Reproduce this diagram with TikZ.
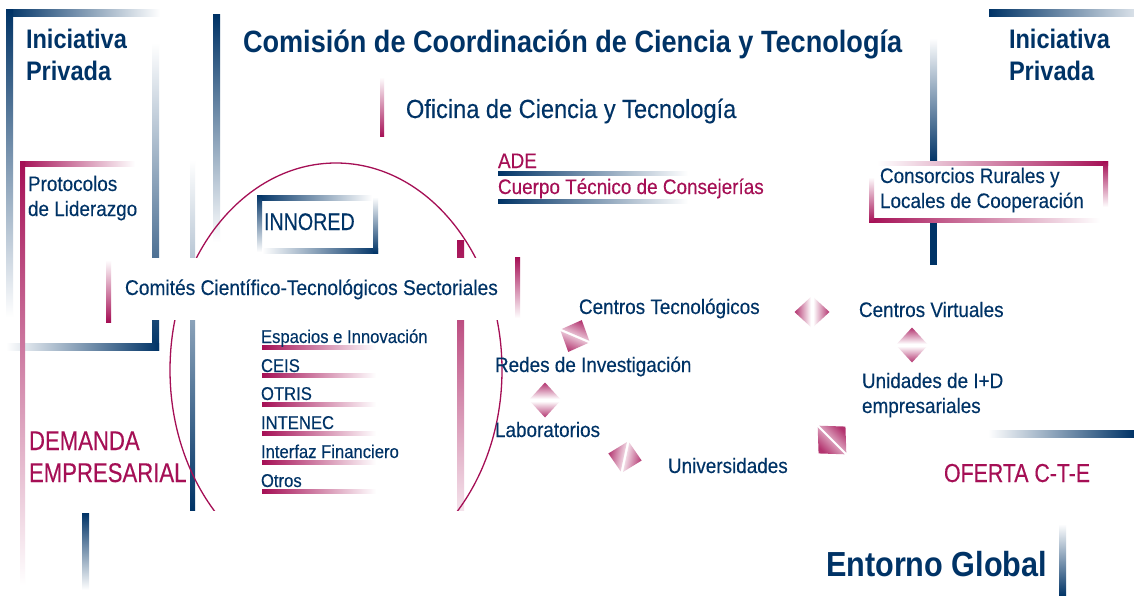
\documentclass[tikz,border=0pt]{standalone}
\usepackage{fontspec}
\setmainfont[FakeStretch=0.9,FakeBold=0.3]{Liberation Sans}
\newfontfamily\boldfam[FakeStretch=0.88]{Liberation Sans}
\newfontfamily\capfam[FakeStretch=0.82,FakeBold=0.3]{Liberation Sans}
\usetikzlibrary{calc}
\definecolor{navy}{RGB}{0,51,102}
\definecolor{mag}{RGB}{165,15,85}
\newcommand\dblarr[4]{%
  \pgfmathsetmacro\dblsa{-(#2)-90}%
  \pgfmathsetmacro\dblsb{-(#2)+90}%
  \shade[top color=mag!85, bottom color=white, shading angle=\dblsa]
    ($(#1)+(#2:#3)$) -- ($(#1)+(#2:1.2)+(#2+90:#4)$) -- ($(#1)+(#2:1.2)+(#2-90:#4)$) -- cycle;
  \shade[top color=mag!85, bottom color=white, shading angle=\dblsb]
    ($(#1)+(#2+180:#3)$) -- ($(#1)+(#2+180:1.2)+(#2+90:#4)$) -- ($(#1)+(#2+180:1.2)+(#2-90:#4)$) -- cycle;
}
\tikzset{
  lbl/.style={anchor=base west, inner sep=0pt, outer sep=0pt, text=navy},
  maglbl/.style={lbl, text=mag},
  fbold/.style={font=\boldfam\bfseries\fontsize{#1}{#1}\selectfont},
  freg/.style={font=\fontsize{#1}{#1}\selectfont},
  fcap/.style={font=\capfam\fontsize{#1}{#1}\selectfont},
}
\begin{document}
\begin{tikzpicture}[x=1pt,y=-1pt]
\useasboundingbox (0,0) rectangle (1134,596);
\fill[white] (0,0) rectangle (1134,596);

% ---- navy bars
\shade[left color=navy,right color=white] (6,10) rectangle (160,17);
\shade[top color=navy,bottom color=white] (6,10) rectangle (13,317);
\shade[top color=white,bottom color=navy] (152,43) rectangle (159,350);
\shade[left color=white,right color=navy] (6,343) rectangle (159,350);
\shade[top color=white,bottom color=navy] (190,160) rectangle (195,510);
\shade[top color=navy,bottom color=white] (213,15) rectangle (220,242);
% INNORED frame
\shade[left color=navy,right color=white] (257,195) rectangle (372,200);
\shade[top color=navy,bottom color=white] (257,195) rectangle (262,252);
\shade[left color=white,right color=navy] (262,248) rectangle (378,253);
\shade[top color=white,bottom color=navy] (373,197) rectangle (378,253);
% ADE bars
\shade[left color=navy,right color=white] (498,172) rectangle (688,176);
\shade[left color=navy,right color=white] (498,199) rectangle (688,203);
% right side
\shade[left color=navy,right color=navy!15] (989,10) rectangle (1134,17);
\shade[top color=white,bottom color=navy] (930,38) rectangle (937,162);
\fill[navy] (930,222) rectangle (937,265);
\shade[left color=white,right color=navy] (988,430) rectangle (1134,437);
\shade[top color=navy,bottom color=white] (82,513) rectangle (89,590);
\shade[top color=white,bottom color=navy] (1059,524) rectangle (1066,596);

% ---- magenta bars
\shade[left color=mag,right color=white] (20,162) rectangle (135,167);
\shade[top color=mag,bottom color=white] (20,162) rectangle (25,585);
\shade[top color=white,bottom color=mag] (380,77) rectangle (384,137);
\shade[top color=mag,bottom color=mag!12] (457,240) rectangle (464,510);

% ---- ellipse
\begin{scope}
\clip (0,0) rectangle (1134,510);
\draw[mag, line width=1.3pt] (336,370) ellipse [x radius=166pt, y radius=207pt];
\end{scope}

% ---- Comites band
\fill[white] (112,258) rectangle (512,320);
\shade[top color=white,bottom color=mag] (106,260) rectangle (111,322);
\shade[top color=mag,bottom color=white] (515,257) rectangle (520,318);

% ---- Consorcios frame
\shade[left color=white,right color=mag] (877,162) rectangle (1108,166);
\shade[top color=mag,bottom color=white] (1103,162) rectangle (1108,207);
\shade[left color=mag,right color=white] (869,218) rectangle (1100,222);
\shade[top color=white,bottom color=mag] (869,177) rectangle (874,222);

% ---- list underlines
\foreach \yy in {345,373,402,431,460,489}
  \shade[left color=mag,right color=white] (262,\yy) rectangle (376,\yy+4);

% ---- texts
\node[lbl, fbold=26.8] (ipl1) at (26,49) {Iniciativa};
\node[lbl, fbold=26.8] (ipl2) at (26,81) {Privada};
\node[lbl, fbold=26.8] (ipr1) at (1009,49) {Iniciativa};
\node[lbl, fbold=26.8] (ipr2) at (1009,81) {Privada};
\node[lbl, fbold=30.8] (title) at (243,53) {Comisión de Coordinación de Ciencia y Tecnología};
\node[lbl, freg=26.2] (ofi) at (406,118) {Oficina de Ciencia y Tecnología};
\node[maglbl, freg=21] (ade) at (498,168) {ADE};
\node[maglbl, freg=21] (cue) at (498,194) {Cuerpo Técnico de Consejerías};
\node[lbl, freg=21] (pro1) at (28,191) {Protocolos};
\node[lbl, freg=21] (pro2) at (28,216) {de Liderazgo};
\node[lbl, fcap=24] (inn) at (264,230) {INNORED};
\node[lbl, freg=21.3] (com) at (125,295) {Comités Científico-Tecnológicos Sectoriales};
\node[lbl, freg=18.5] (l1) at (261,343) {Espacios e Innovación};
\node[lbl, freg=18.5] (l2) at (261,372) {CEIS};
\node[lbl, freg=18.5] (l3) at (261,400) {OTRIS};
\node[lbl, freg=18.5] (l4) at (261,429) {INTENEC};
\node[lbl, freg=18.5] (l5) at (261,458) {Interfaz Financiero};
\node[lbl, freg=18.5] (l6) at (261,487) {Otros};
\node[maglbl, fcap=27] (dem1) at (29,450) {DEMANDA};
\node[maglbl, fcap=27] (dem2) at (29,482) {EMPRESARIAL};
\node[lbl, freg=21] (con1) at (880,183) {Consorcios Rurales y};
\node[lbl, freg=21] (con2) at (880,208) {Locales de Cooperación};
\node[lbl, freg=21] (ct) at (579,314) {Centros Tecnológicos};
\node[lbl, freg=21] (cv) at (859,317) {Centros Virtuales};
\node[lbl, freg=21] (red) at (495,372) {Redes de Investigación};
\node[lbl, freg=21] (lab) at (495,437) {Laboratorios};
\node[lbl, freg=21] (uni) at (668,473) {Universidades};
\node[lbl, freg=21] (uid1) at (862,388) {Unidades de I+D};
\node[lbl, freg=21] (uid2) at (862,413) {empresariales};
\node[maglbl, fcap=26] (ofe) at (944,482) {OFERTA C-T-E};
\node[lbl, fbold=34.8] (ent) at (826,576) {Entorno Global};

% ---- double arrows
\dblarr{812,312}{0}{17.5}{15}
\dblarr{912,345}{90}{17.5}{15}
\dblarr{545,400}{90}{17.5}{15}
\dblarr{625,457}{12}{17}{15}
\dblarr{575,336}{-67}{17.3}{15}
\dblarr{832,440}{-45}{19}{19}
\end{tikzpicture}
\end{document}
